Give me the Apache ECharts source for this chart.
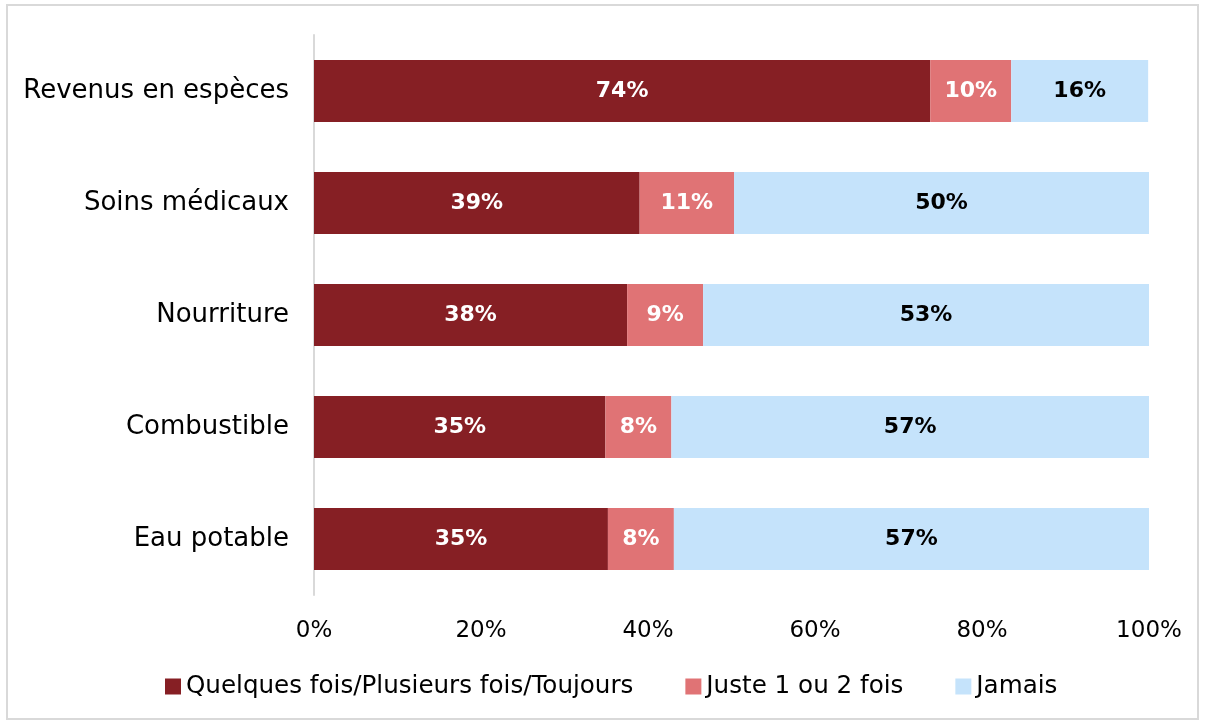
<!DOCTYPE html>
<html>
<head>
<meta charset="utf-8">
<script src="https://cdn.jsdelivr.net/npm/echarts@6/dist/echarts.min.js"></script>
<style>
  html, body { margin: 0; padding: 0; background: #fff; }
  #chart { width: 1205px; height: 720px; }
</style>
</head>
<body>
<div id="chart"></div>
<script>
// catégories (de haut en bas)
const categories = ['Revenus en espèces', 'Soins médicaux', 'Nourriture', 'Combustible', 'Eau potable']
const seriesNames = ['Quelques fois/Plusieurs fois/Toujours', 'Juste 1 ou 2 fois', 'Jamais']
const souvent = [73.8, 39.0, 37.5, 34.9, 35.2]
const uneDeuxFois = [9.7, 11.3, 9.1, 7.9, 7.9]
const jamais = [16.4, 49.7, 53.4, 57.2, 56.9]
const tickLabels = ['0%', '20%', '40%', '60%', '80%', '100%']

const FONT = 'DejaVu Sans'
const colors = ['#861F24', '#E07375', '#C5E3FB']
const labelColors = ['#fff', '#fff', '#000']

const chart = echarts.init(document.getElementById('chart'))

const seriesData = [souvent, uneDeuxFois, jamais]

chart.setOption({
  animation: false,
  textStyle: { fontFamily: FONT },
  graphic: [{
    type: 'rect',
    shape: { x: 7, y: 5, width: 1191, height: 714 },
    style: { fill: 'none', stroke: '#d9d9d9', lineWidth: 2 },
    silent: true
  }],
  grid: { left: 314, right: 56, top: 35, bottom: 125 },
  legend: {
    bottom: 16,
    left: 160,
    itemWidth: 16,
    itemHeight: 16,
    itemGap: 52,
    icon: 'rect',
    textStyle: { fontFamily: FONT, fontSize: 24.6, color: '#000' },
    data: seriesNames
  },
  xAxis: {
    type: 'value',
    min: 0,
    max: 100,
    interval: 20,
    axisLine: { show: false },
    axisTick: { show: false },
    splitLine: { show: false },
    axisLabel: {
      fontFamily: FONT,
      fontSize: 23,
      color: '#000',
      margin: 25,
      formatter: (v) => tickLabels[v / 20]
    }
  },
  yAxis: {
    type: 'category',
    inverse: true,
    data: categories,
    axisLine: { show: true, lineStyle: { color: '#d9d9d9', width: 2 } },
    axisTick: { show: false },
    axisLabel: { fontFamily: FONT, fontSize: 26, color: '#000', margin: 25 }
  },
  series: seriesNames.map((name, i) => ({
    name: name,
    type: 'bar',
    stack: 'total',
    barWidth: 62,
    itemStyle: { color: colors[i] },
    label: {
      show: true,
      position: 'inside',
      fontFamily: FONT,
      fontSize: 22,
      fontWeight: 'bold',
      color: labelColors[i],
      formatter: (p) => Math.round(p.value) + '%'
    },
    data: seriesData[i]
  }))
})
</script>
</body>
</html>
